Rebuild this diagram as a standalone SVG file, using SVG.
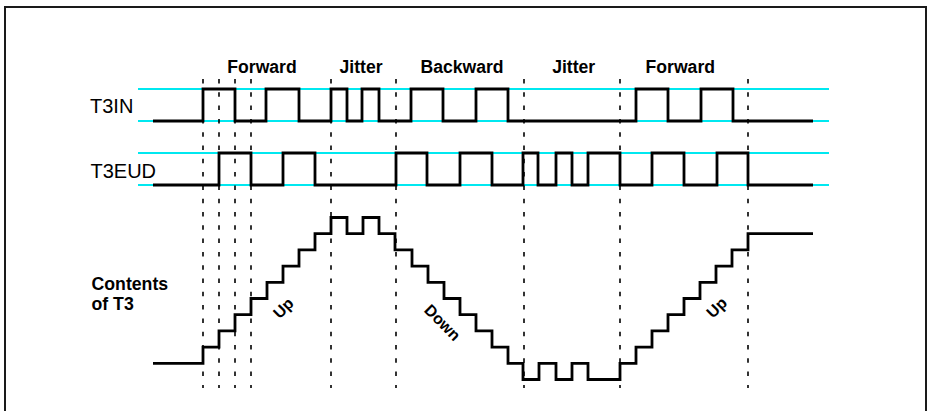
<svg xmlns="http://www.w3.org/2000/svg" width="928" height="411" viewBox="0 0 928 411">
<style>
.frame{fill:none;stroke:#1a1a1a;stroke-width:2}
.cyan{stroke:#00e8f0;stroke-width:2;fill:none}
.dash{stroke:#000;stroke-width:1.6;stroke-dasharray:4.5 8.8;fill:none}
.sig{stroke:#000;stroke-width:2.8;fill:none;stroke-linejoin:miter}
.hdr{font-family:"Liberation Sans",Arial,sans-serif;font-weight:bold;font-size:17.6px;fill:#000;text-anchor:middle}
.lbl{font-family:"Liberation Sans",Arial,sans-serif;font-size:20px;fill:#000}
.lblb{font-family:"Liberation Sans",Arial,sans-serif;font-size:17.7px;font-weight:bold;fill:#000}
.rot{font-family:"Liberation Sans",Arial,sans-serif;font-size:16px;font-weight:bold;fill:#000;text-anchor:middle;dominant-baseline:central}
</style>
<rect width="928" height="411" fill="#fff"/>
<path class="frame" d="M5,412 V7 H926 V412"/>
<g id="guides">
<line class="cyan" x1="138" y1="89" x2="829" y2="89"/>
<line class="cyan" x1="138" y1="121" x2="829" y2="121"/>
<line class="cyan" x1="138" y1="153" x2="829" y2="153"/>
<line class="cyan" x1="138" y1="185" x2="829" y2="185"/>
</g>
<g id="markers">
<line class="dash" x1="203" y1="79" x2="203" y2="388"/>
<line class="dash" x1="219" y1="79" x2="219" y2="388"/>
<line class="dash" x1="235" y1="79" x2="235" y2="388"/>
<line class="dash" x1="251" y1="79" x2="251" y2="388"/>
<line class="dash" x1="331" y1="79" x2="331" y2="388"/>
<line class="dash" x1="396" y1="79" x2="396" y2="388"/>
<line class="dash" x1="524" y1="79" x2="524" y2="388"/>
<line class="dash" x1="620" y1="79" x2="620" y2="388"/>
<line class="dash" x1="748" y1="79" x2="748" y2="388"/>
</g>
<g id="T3IN">
<path class="sig" d="M153,121 H203 V89 H235 V121 H266 V89 H299 V121 H331 V89 H347 V121 H362 V89 H379 V121 H411 V89 H443 V121 H476 V89 H508 V121 H636 V89 H668 V121 H701 V89 H733 V121 H813"/>
<text class="lbl" x="90" y="113.3">T3IN</text>
</g>
<g id="T3EUD">
<path class="sig" d="M153,185 H219 V153 H251 V185 H283 V153 H315 V185 H396 V153 H427 V185 H460 V153 H492 V185 H523 V153 H538 V185 H556 V153 H572 V185 H588 V153 H620 V185 H652 V153 H684 V185 H717 V153 H748 V185 H813"/>
<text class="lbl" x="90.5" y="178.3">T3EUD</text>
</g>
<g id="T3">
<path class="sig" d="M153,363.3 H203 V347.1 H219 V330.9 H235 V314.7 H251 V298.5 H267 V282.3 H283 V266.1 H299 V249.9 H315 V233.7 H331 V217.5 H347 V233.7 H363 V217.5 H379 V233.7 H395 V249.9 H412 V266.1 H428 V282.3 H444 V298.5 H460 V314.7 H476 V330.9 H492 V347.1 H508 V363.3 H523 V379.5 H539 V363.3 H556 V379.5 H572 V363.3 H588 V379.5 H620 V363.3 H636 V347.1 H652 V330.9 H668 V314.7 H684 V298.5 H700 V282.3 H716 V266.1 H732 V249.9 H748 V233.7 H813"/>
<text class="lblb" x="91.5" y="290">Contents</text>
<text class="lblb" x="91.5" y="310">of T3</text>
<text class="rot" transform="translate(283.3,308) rotate(-45)">Up</text>
<text class="rot" transform="translate(442.5,322.5) rotate(45)">Down</text>
<text class="rot" transform="translate(716.7,307.5) rotate(-45)">Up</text>
</g>
<g id="phases">
<text class="hdr" x="262" y="73">Forward</text>
<text class="hdr" x="361" y="73">Jitter</text>
<text class="hdr" x="462" y="73">Backward</text>
<text class="hdr" x="573.7" y="73">Jitter</text>
<text class="hdr" x="680.3" y="73">Forward</text>
</g>
</svg>
